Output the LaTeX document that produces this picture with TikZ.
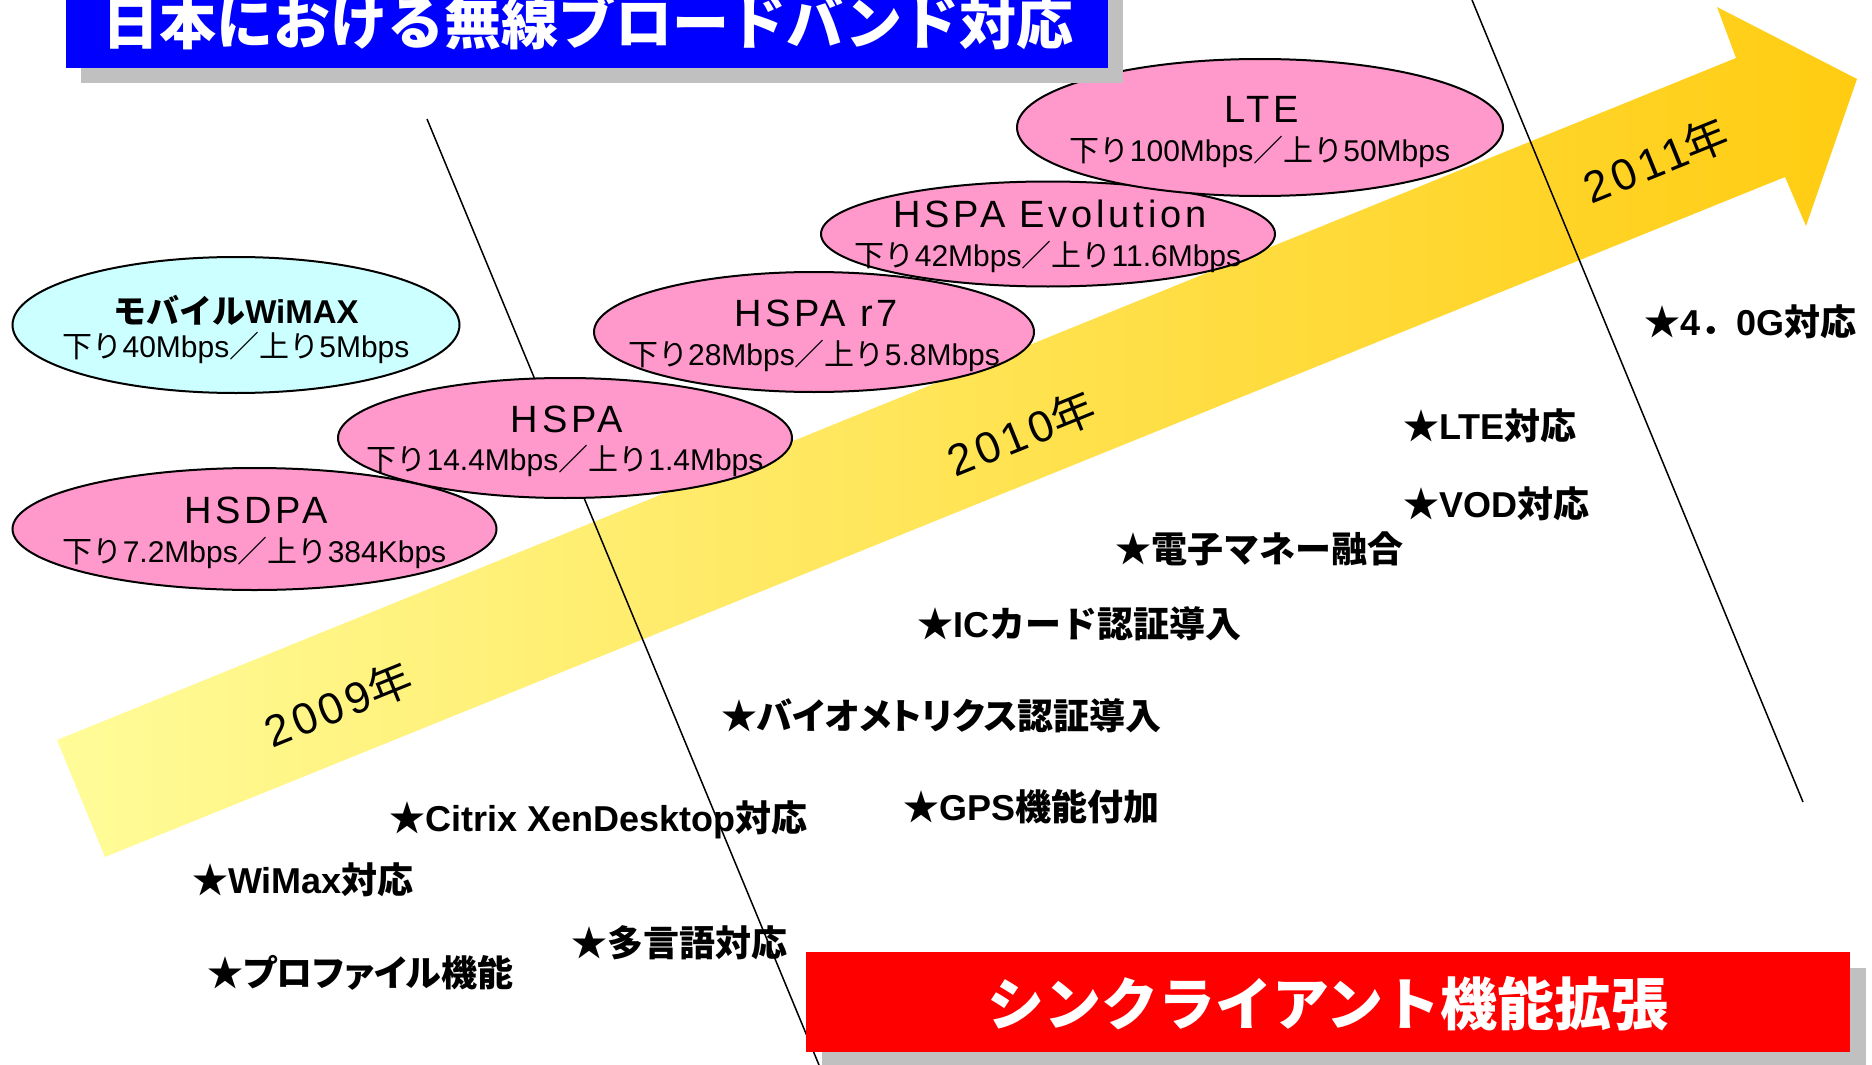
\documentclass[tikz,border=0pt]{standalone}
\usepackage{fontspec}
\usetikzlibrary{shapes.geometric}
\setmainfont{Noto Sans CJK JP}
\newfontfamily\propjp{Noto Sans CJK JP}[RawFeature=+palt]
\newfontfamily\lat{Liberation Sans}
\newfontfamily\latsp{Liberation Sans}[LetterSpace=10]
\newfontfamily\yearfont{Liberation Sans}[LetterSpace=10]
\definecolor{ellpink}{RGB}{255,153,204}
\definecolor{ellcyan}{RGB}{204,255,255}
\definecolor{arrowlight}{RGB}{255,252,153}
\definecolor{arrowdark}{RGB}{255,204,17}
\definecolor{shadowgray}{RGB}{192,192,192}
\definecolor{titleblue}{RGB}{0,0,255}
\definecolor{boxred}{RGB}{255,0,0}
\begin{document}
\begin{tikzpicture}[x=1pt,y=-1pt,
  ell/.style={ellipse, draw=black, line width=2pt, inner sep=0pt},
  pinkell/.style={ell, fill=ellpink},
  cyanell/.style={ell, fill=ellcyan},
  ttl/.style={font=\fontsize{38}{42}\selectfont\latsp, inner sep=0pt},
  spd/.style={font=\fontsize{30}{34}\selectfont, inner sep=0pt},
  item/.style={font=\fontsize{36}{40}\selectfont\bfseries, anchor=west, inner sep=0pt},
  yearlbl/.style={font=\fontsize{44}{48}\selectfont, rotate=22, inner sep=0pt},
  sepline/.style={line width=1.5pt, draw=black},
  shadowbox/.style={fill=shadowgray, draw=none, inner sep=0pt, anchor=north west},
  banner/.style={draw=none, inner sep=0pt, anchor=north west},
  bannertext/.style={font=\fontsize{57}{60}\selectfont\bfseries, text=white, inner sep=0pt},
]
\useasboundingbox (0,0) rectangle (1872,1065);
\fill[white] (0,0) rectangle (1872,1065);

% big arrow
\shade[left color=arrowlight, right color=arrowdark]
  (57,740) -- (1736,58) -- (1717,7) -- (1857,79) -- (1806,226) -- (1785,177) -- (105,857) -- cycle;

% year labels
\node[yearlbl] (y2009) at (338,704) {{\yearfont 2009}年};
\node[yearlbl] (y2010) at (1021,433) {{\yearfont 2010}年};
\node[yearlbl] (y2011) at (1656,160) {{\yearfont 2011}年};

% separating lines
\coordinate (l1a) at (427,119);
\coordinate (l1b) at (819,1065);
\coordinate (l2a) at (1472,0);
\coordinate (l2b) at (1803,802);
\draw[sepline] (l1a) -- (l1b);
\draw[sepline] (l2a) -- (l2b);

% ellipses
\node[pinkell, minimum width=454pt, minimum height=120pt] (hspa) at (565,438) {};
\node[pinkell, minimum width=484pt, minimum height=122pt] (hsdpa) at (254.5,529) {};
\node[cyanell, minimum width=447pt, minimum height=136pt] (wimax) at (236,325) {};
\node[pinkell, minimum width=440pt, minimum height=120pt] (hspar7) at (814,332) {};
\node[pinkell, minimum width=454pt, minimum height=105pt] (evo) at (1048,234) {};
\node[pinkell, minimum width=486pt, minimum height=137pt] (lte) at (1260,127.5) {};

% ellipse texts
\node[inner sep=0pt, font=\fontsize{33}{36}\selectfont\bfseries] (wimaxT) at (236,310) {モバイル{\lat WiMAX}};
\node[spd] (wimaxS) at (236,348) {下り{\lat 40Mbps}／上り{\lat 5Mbps}};
\node[ttl] (hsdpaT) at (256,510) {HSDPA};
\node[spd] (hsdpaS) at (254.5,553) {下り{\lat 7.2Mbps}／上り{\lat 384Kbps}};
\node[ttl] (hspaT) at (567,419) {HSPA};
\node[spd] (hspaS) at (565,461) {下り{\lat 14.4Mbps}／上り{\lat 1.4Mbps}};
\node[ttl] (hspar7T) at (816,313) {HSPA r7};
\node[spd] (hspar7S) at (814,356) {下り{\lat 28Mbps}／上り{\lat 5.8Mbps}};
\node[ttl] (evoT) at (1050,214) {HSPA Evolution};
\node[spd] (evoS) at (1048,257) {下り{\lat 42Mbps}／上り{\lat 11.6Mbps}};
\node[ttl] (lteT) at (1262,109) {LTE};
\node[spd] (lteS) at (1260,152) {下り{\lat 100Mbps}／上り{\lat 50Mbps}};

% feature items
\node[item] (i40g) at (1644,322) {★{\lat 4}．{\lat 0G}対応};
\node[item] (ilte) at (1403,426) {★{\lat LTE}対応};
\node[item] (ivod) at (1403,504) {★{\lat VOD}対応};
\node[item] (imoney) at (1115,549) {★電子マネー融合};
\node[item] (iic) at (917,624) {★{\lat IC}カード認証導入};
\node[item] (ibio) at (721,716) {★{\propjp バイオメトリクス}認証導入};
\node[item] (igps) at (903,807) {★{\lat GPS}機能付加};
\node[item] (icitrix) at (389,820) {★{\lat Citrix XenDesktop}対応};
\node[item] (iwimax) at (192,880) {★{\lat WiMax}対応};
\node[item] (ilang) at (571,943) {★多言語対応};
\node[item] (iprof) at (207,973) {★{\propjp プロファイル}機能};

% title banner
\node[shadowbox, minimum width=1042pt, minimum height=103pt] (titleshadow) at (81,-20) {};
\node[banner, fill=titleblue, minimum width=1042pt, minimum height=88pt] (titlebox) at (66,-20) {};
\node[bannertext] (titletext) at (588,22) {日本における無線ブロードバンド対応};

% bottom banner
\node[shadowbox, minimum width=1044pt, minimum height=110pt] (redshadow) at (822,968) {};
\node[banner, fill=boxred, minimum width=1044pt, minimum height=100pt] (redbox) at (806,952) {};
\node[bannertext] (redtext) at (1328,1004) {シンクライアント機能拡張};
\end{tikzpicture}
\end{document}
